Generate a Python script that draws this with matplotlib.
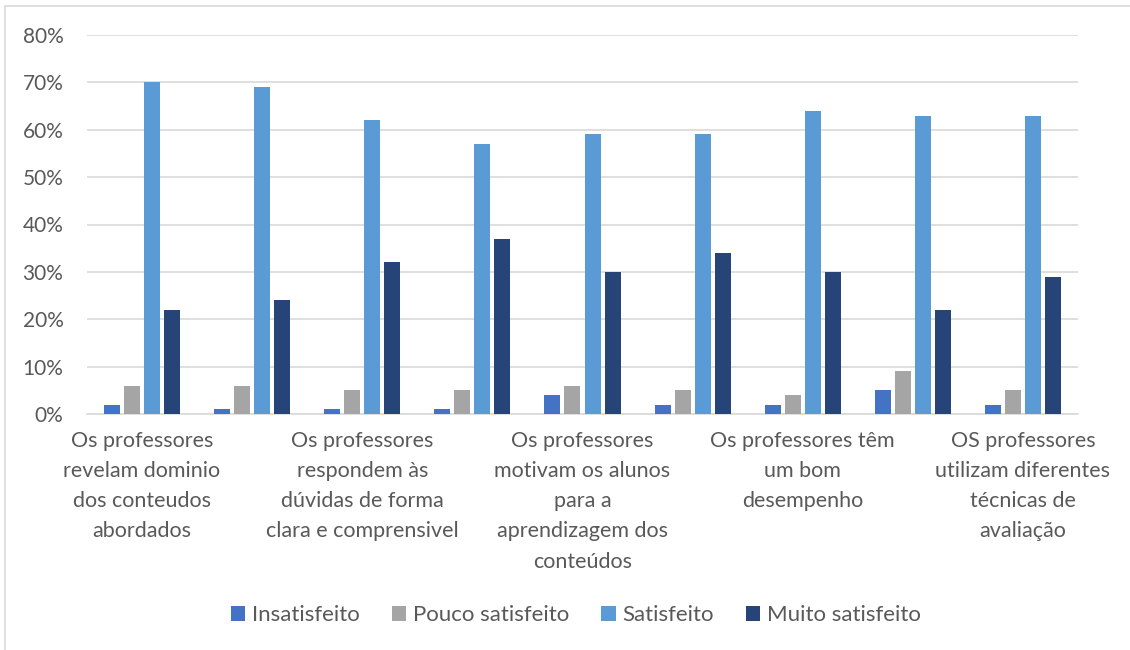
import numpy as np
import matplotlib.pyplot as plt
from matplotlib.patches import Rectangle

plt.rcParams['font.family'] = ['Lato', 'DejaVu Sans']

# valores em % por grupo (9 grupos, so 5 rotulos visiveis)
insatisfeito = [2, 1, 1, 1, 4, 2, 2, 5, 2]
pouco_satisfeito = [6, 6, 5, 5, 6, 5, 4, 9, 5]
satisfeito = [70, 69, 62, 57, 59, 59, 64, 63, 63]
muito_satisfeito = [22, 24, 32, 37, 30, 34, 30, 22, 29]

series_nomes = ['Insatisfeito', 'Pouco satisfeito', 'Satisfeito', 'Muito satisfeito']
cores = ['#4472C4', '#A5A5A5', '#5B9BD5', '#264478']

rotulos = ['Os professores\nrevelam dominio\ndos conteudos\nabordados',
           '',
           'Os professores\nrespondem às\ndúvidas de forma\nclara e comprensivel',
           '',
           'Os professores\nmotivam os alunos\npara a\naprendizagem dos\nconteúdos',
           '',
           'Os professores têm\num bom\ndesempenho',
           '',
           'OS professores\nutilizam diferentes\ntécnicas de\navaliação']

texto_cor = '#595959'
grade_cor = '#D9D9D9'

fig = plt.figure(figsize=(11.3, 6.5), dpi=100)
ax = fig.add_axes([87 / 1130, 1 - 414 / 650, (1078 - 87) / 1130, (414 - 35) / 650])

# moldura do grafico
fig.patches.append(Rectangle((5 / 1130, -0.01), 1.1, 1 - 6 / 650 + 0.01,
                             transform=fig.transFigure, fill=False,
                             edgecolor=grade_cor, linewidth=1.2))

x = np.arange(len(satisfeito))
largura = 0.145
passo = 0.182
dados = [insatisfeito, pouco_satisfeito, satisfeito, muito_satisfeito]
for i, (vals, cor, nome) in enumerate(zip(dados, cores, series_nomes)):
    ax.bar(x + (i - 1.5) * passo, vals, largura, color=cor, label=nome, zorder=3)

ax.set_xlim(-0.5, len(x) - 0.5)
ax.set_ylim(0, 80)
ax.set_yticks(range(0, 81, 10))
ax.set_yticklabels([f'{v}%' for v in range(0, 81, 10)])
ax.grid(axis='y', color=grade_cor, linewidth=1.2, zorder=0)

ax.set_xticks(x)
ax.set_xticklabels(rotulos, linespacing=1.64, va='top')

for s in ['top', 'right', 'left']:
    ax.spines[s].set_visible(False)
ax.spines['bottom'].set_color(grade_cor)
ax.spines['bottom'].set_linewidth(1.2)
ax.tick_params(axis='both', length=0, colors=texto_cor)
ax.tick_params(axis='x', pad=12, labelsize=15.5)
ax.tick_params(axis='y', pad=17, labelsize=15)

leg = fig.legend(loc='center', bbox_to_anchor=(576 / 1130, 1 - 615 / 650), ncol=4,
                 frameon=False, fontsize=16, handlelength=0.64, handleheight=0.64,
                 columnspacing=1.45, handletextpad=0.3)
for t in leg.get_texts():
    t.set_color(texto_cor)

fig.savefig('out.png', dpi=100)
